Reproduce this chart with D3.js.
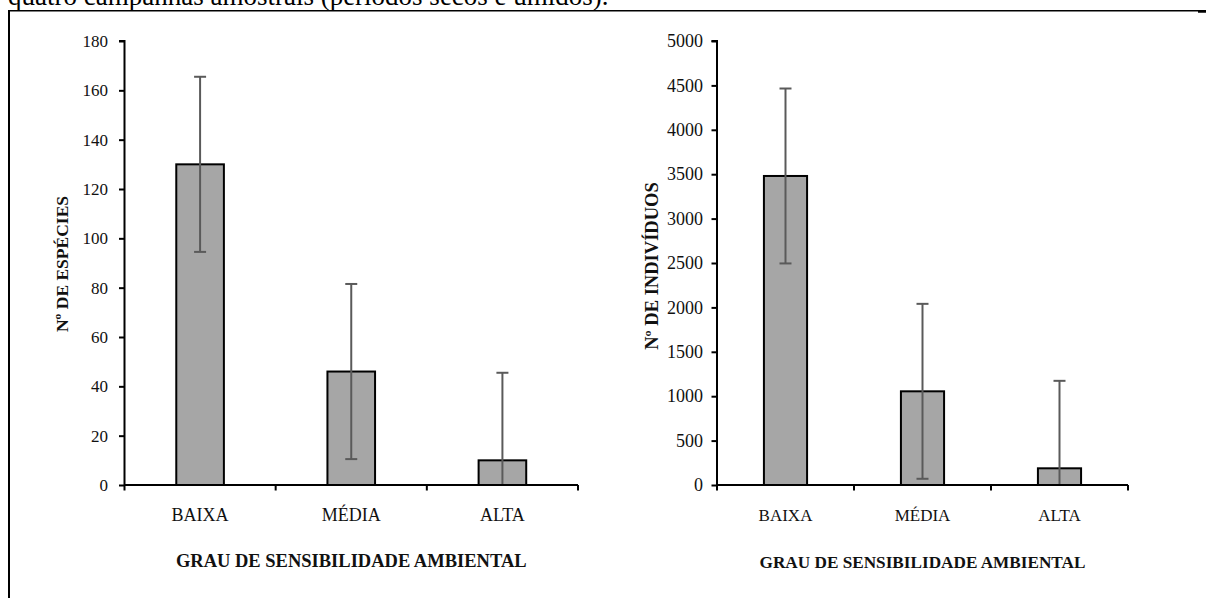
<!DOCTYPE html>
<html>
<head>
<meta charset="utf-8">
<script src="https://cdn.jsdelivr.net/npm/d3@7"></script>
<style>
  html, body { margin: 0; padding: 0; background: #fff; }
  svg { display: block; font-family: "Liberation Serif", "Times New Roman", serif; }
</style>
</head>
<body>
<svg id="fig" width="1206" height="598"></svg>
<script>
// Sensitivity classes and the two measured responses (mean ± standard deviation)
const categories = ["BAIXA", "MÉDIA", "ALTA"];
const especies = [130, 46, 10];
const especiesErr = [35.5, 35.5, 35.5];
const individuos = [3480, 1055, 188];
const individuosErr = [985, 985, 985];
const especiesTicks = [0, 20, 40, 60, 80, 100, 120, 140, 160, 180];
const individuosTicks = [0, 500, 1000, 1500, 2000, 2500, 3000, 3500, 4000, 4500, 5000];

const xTitle = "GRAU DE SENSIBILIDADE AMBIENTAL";
const caption = "quatro campanhas amostrais (períodos secos e úmidos).";

const svg = d3.select("#fig");

// caption line running off the top of the page
svg.append("text")
  .attr("x", 8).attr("y", 5)
  .attr("font-size", 27)
  .attr("fill", "#000")
  .text(caption);

// frame around the figure
svg.append("line").attr("x1", 8).attr("x2", 1206).attr("y1", 10.75).attr("y2", 10.75)
  .attr("stroke", "#000").attr("stroke-width", 1.5);
svg.append("line").attr("x1", 1198).attr("x2", 1206).attr("y1", 11.5).attr("y2", 11.5)
  .attr("stroke", "#000").attr("stroke-width", 2.5);
svg.append("line").attr("x1", 9).attr("x2", 9).attr("y1", 10).attr("y2", 598)
  .attr("stroke", "#000").attr("stroke-width", 2);

function drawPanel(opt) {
  const g = svg.append("g");
  const y = d3.scaleLinear().domain(opt.domain).range([485, 41]);
  const x = d3.scaleBand().domain(categories).range([opt.x0, opt.x1]).padding(0);
  const barW = x.bandwidth() * 0.315;

  // y axis
  const yAxis = d3.axisLeft(y).tickValues(opt.ticks).tickSize(5.5).tickPadding(opt.tickPad)
    .tickFormat(d3.format("d"));
  const ya = g.append("g").attr("transform", `translate(${opt.x0},0)`).call(yAxis);
  ya.select(".domain").attr("stroke", "#000").attr("stroke-width", 2)
    .attr("d", `M-5.5,${y.range()[1]}H0V${y.range()[0]}`);
  ya.selectAll(".tick line").attr("stroke", "#000").attr("stroke-width", 2);
  ya.selectAll(".tick text").attr("font-size", opt.tickFont).attr("fill", "#111")
    .attr("font-family", "Liberation Serif");

  // bars
  g.selectAll("rect.bar").data(opt.values).join("rect")
    .attr("class", "bar")
    .attr("x", (d, i) => x(categories[i]) + x.bandwidth() / 2 - barW / 2)
    .attr("width", barW)
    .attr("y", d => y(d))
    .attr("height", d => y(0) - y(d))
    .attr("fill", "#a6a6a6")
    .attr("stroke", "#000")
    .attr("stroke-width", 2);

  // error bars
  const eg = g.append("g").attr("stroke", "#5a5a5a").attr("stroke-width", 2);
  opt.values.forEach((v, i) => {
    const cx = x(categories[i]) + x.bandwidth() / 2;
    const hi = v + opt.errors[i];
    const lo = Math.max(0, v - opt.errors[i]);
    eg.append("line").attr("x1", cx).attr("x2", cx).attr("y1", y(hi)).attr("y2", y(lo));
    eg.append("line").attr("x1", cx - 6).attr("x2", cx + 6).attr("y1", y(hi)).attr("y2", y(hi));
    if (v - opt.errors[i] > 0) {
      eg.append("line").attr("x1", cx - 6).attr("x2", cx + 6).attr("y1", y(lo)).attr("y2", y(lo));
    }
  });

  // x axis with ticks on the category boundaries
  const xa = g.append("g").attr("transform", `translate(0,${y(0)})`);
  xa.append("line").attr("x1", opt.x0).attr("x2", opt.x1).attr("y1", 0).attr("y2", 0)
    .attr("stroke", "#000").attr("stroke-width", 2);
  const bounds = categories.map(c => x(c)).concat([opt.x1]);
  xa.selectAll("line.tk").data(bounds).join("line").attr("class", "tk")
    .attr("x1", d => d).attr("x2", d => d).attr("y1", 0).attr("y2", 5.5)
    .attr("stroke", "#000").attr("stroke-width", 2);
  xa.selectAll("text").data(categories).join("text")
    .attr("x", d => x(d) + x.bandwidth() / 2)
    .attr("y", 36)
    .attr("text-anchor", "middle")
    .attr("font-size", opt.catFont)
    .attr("fill", "#111")
    .text(d => d);

  // axis titles
  g.append("text")
    .attr("x", (opt.x0 + opt.x1) / 2).attr("y", opt.titleY)
    .attr("text-anchor", "middle")
    .attr("font-weight", "bold")
    .attr("font-size", opt.titleFont)
    .attr("fill", "#111")
    .text(xTitle);
  g.append("text")
    .attr("transform", `translate(${opt.yLabX},${opt.yLabY}) rotate(-90)`)
    .attr("text-anchor", "middle")
    .attr("font-weight", "bold")
    .attr("font-size", opt.yLabFont)
    .attr("fill", "#111")
    .text(opt.yLabel);
}

drawPanel({
  values: especies, errors: especiesErr, ticks: especiesTicks, domain: [0, 180],
  x0: 124.5, x1: 578, tickPad: 11, tickFont: 17, catFont: 18, titleFont: 18.5, titleY: 567,
  yLabel: "Nº DE ESPÉCIES", yLabX: 68, yLabY: 264, yLabFont: 17.5
});
drawPanel({
  values: individuos, errors: individuosErr, ticks: individuosTicks, domain: [0, 5000],
  x0: 717, x1: 1128, tickPad: 8.5, tickFont: 18, catFont: 17, titleFont: 17.2, titleY: 568,
  yLabel: "Nº DE INDIVÍDUOS", yLabX: 658, yLabY: 266, yLabFont: 18.5
});
</script>
</body>
</html>
